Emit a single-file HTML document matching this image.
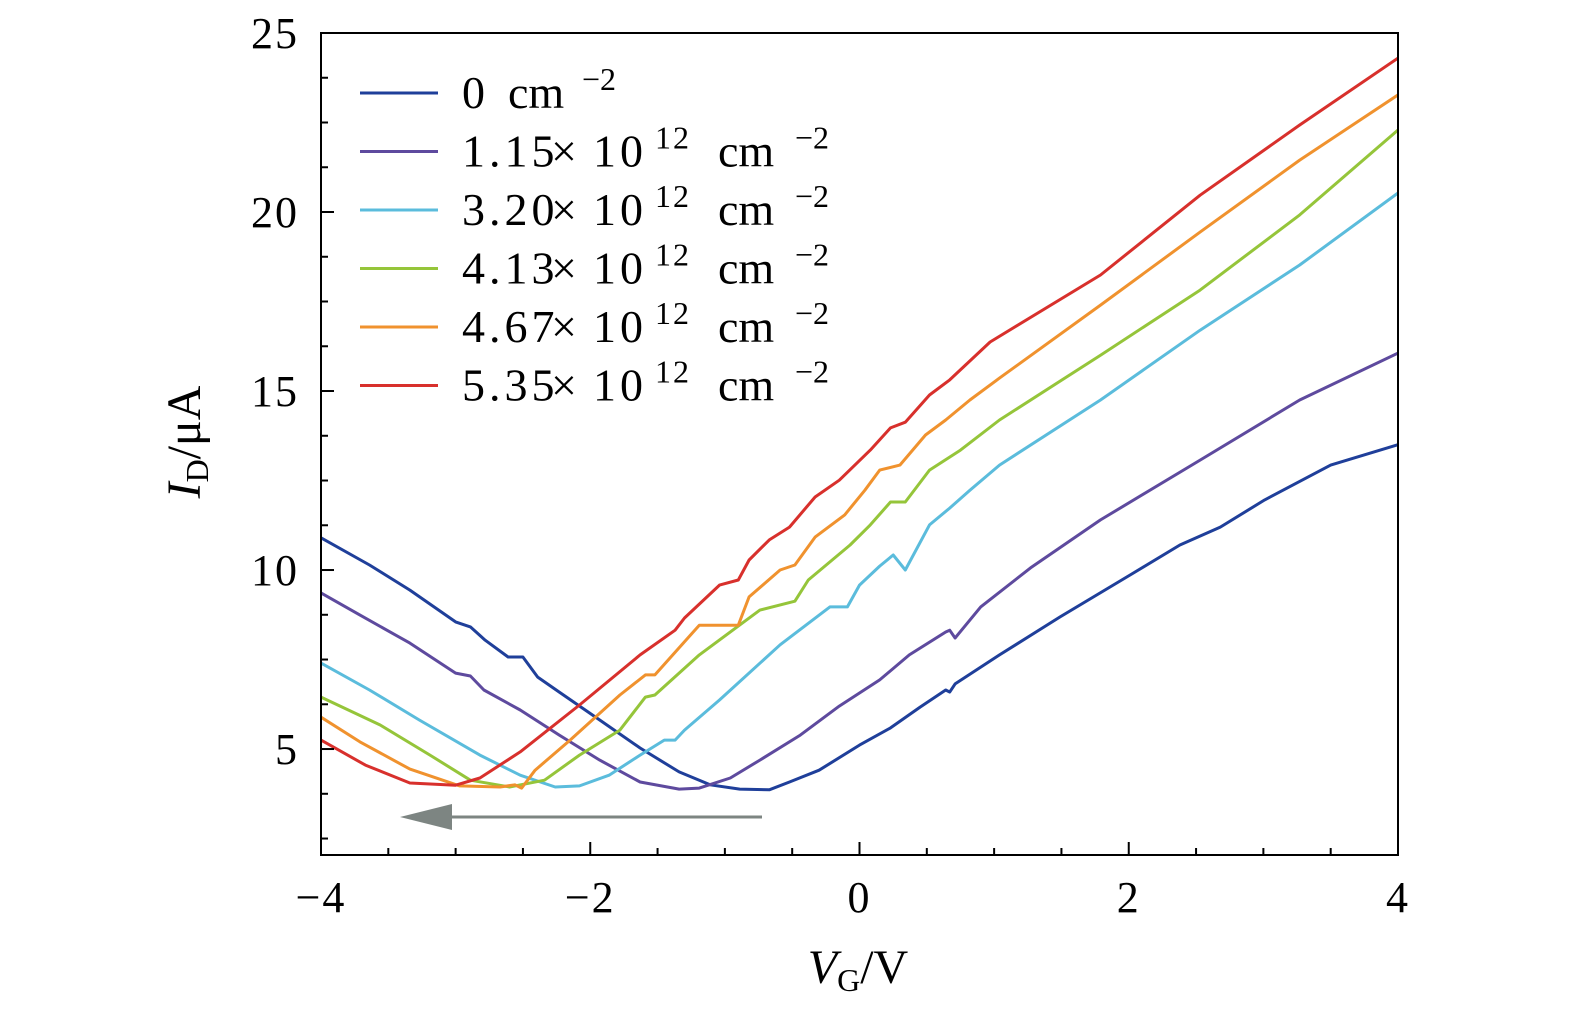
<!DOCTYPE html>
<html><head><meta charset="utf-8"><style>
html,body{margin:0;padding:0;background:#fff;overflow:hidden;width:1575px;height:1014px}
svg{display:block;font-family:"Liberation Serif","DejaVu Serif",serif}
</style></head><body>
<svg id="chart" width="1575" height="1014" viewBox="0 0 1575 1014" xmlns="http://www.w3.org/2000/svg">
<g id="plot"></g>
</svg>
<script>
const xTicks=[-4,-2,0,2,4];
const yTicks=[5,10,15,20,25];
const seriesLabels=["0","1.15","3.20","4.13","4.67","5.35"];
const seriesColors=["#1f3f9a","#5e4a9e","#5bbcdc","#95c53a","#f0922e","#d8302c"];
const vg0=[-4,-3.64,-3.34,-3.0,-2.89,-2.78,-2.61,-2.5,-2.39,-2.23,-1.93,-1.63,-1.34,-1.11,-0.89,-0.67,-0.52,-0.3,0,0.23,0.45,0.64,0.67,0.71,1.04,1.49,2.01,2.38,2.68,3.01,3.5,4];
const id0=[10.9,10.14,9.44,8.55,8.41,8.04,7.57,7.57,7.01,6.59,5.81,5.03,4.36,4.0,3.88,3.86,4.08,4.41,5.11,5.59,6.17,6.65,6.59,6.82,7.63,8.69,9.86,10.7,11.2,11.96,12.93,13.5];
const vg1=[-4,-3.71,-3.34,-3.0,-2.89,-2.79,-2.52,-2.23,-1.93,-1.63,-1.34,-1.19,-0.96,-0.74,-0.44,-0.15,0.15,0.37,0.64,0.67,0.71,0.9,1.27,1.79,2.53,3.27,4];
const id1=[9.36,8.74,7.96,7.12,7.04,6.65,6.09,5.39,4.69,4.08,3.88,3.91,4.19,4.69,5.39,6.2,6.93,7.63,8.27,8.32,8.1,8.97,10.06,11.4,13.07,14.75,16.06];
const vg2=[-4,-3.64,-3.27,-2.82,-2.52,-2.26,-2.08,-1.86,-1.63,-1.45,-1.37,-1.3,-1.04,-0.59,-0.22,-0.09,0,0.15,0.25,0.34,0.52,0.67,0.82,1.04,1.79,2.53,3.27,4];
const id2=[7.4,6.65,5.81,4.83,4.27,3.94,3.97,4.27,4.83,5.25,5.25,5.53,6.37,7.91,8.97,8.97,9.58,10.11,10.42,10.0,11.26,11.73,12.23,12.93,14.75,16.7,18.52,20.53];
const vg3=[-4,-3.56,-3.19,-2.89,-2.6,-2.34,-2.08,-1.78,-1.59,-1.52,-1.19,-0.74,-0.48,-0.38,-0.07,0.08,0.23,0.34,0.52,0.75,1.04,1.79,2.53,3.27,4];
const id3=[6.45,5.67,4.83,4.13,3.94,4.13,4.83,5.53,6.45,6.51,7.63,8.88,9.13,9.72,10.7,11.26,11.9,11.9,12.79,13.35,14.19,16.0,17.82,19.92,22.29];
const vg4=[-4,-3.71,-3.34,-2.97,-2.67,-2.56,-2.51,-2.41,-2.15,-1.78,-1.59,-1.52,-1.19,-0.9,-0.82,-0.59,-0.48,-0.33,-0.11,0.04,0.15,0.3,0.49,0.64,0.82,1.04,1.79,2.53,3.27,4];
const id4=[5.89,5.2,4.44,3.97,3.94,4.0,3.91,4.41,5.25,6.51,7.07,7.07,8.46,8.46,9.25,10.0,10.14,10.92,11.54,12.23,12.79,12.93,13.77,14.19,14.75,15.36,17.4,19.44,21.45,23.27];
const vg5=[-4,-3.67,-3.34,-3.0,-2.82,-2.52,-2.08,-1.63,-1.37,-1.3,-1.04,-0.9,-0.82,-0.67,-0.52,-0.33,-0.15,0.08,0.23,0.34,0.52,0.67,0.97,1.79,2.53,3.27,4];
const id5=[5.25,4.55,4.05,3.99,4.19,4.92,6.23,7.63,8.32,8.66,9.58,9.72,10.28,10.84,11.2,12.04,12.51,13.35,13.97,14.13,14.89,15.31,16.37,18.24,20.47,22.43,24.3];
const allX=[vg0,vg1,vg2,vg3,vg4,vg5], allY=[id0,id1,id2,id3,id4,id5];

const L=321,R=1398,T=33,B=855, yMin=2.04,yMax=25, xMin=-4,xMax=4;
const sx=v=>L+(v-xMin)/(xMax-xMin)*(R-L);
const sy=v=>B-(v-yMin)/(yMax-yMin)*(B-T);
const NS="http://www.w3.org/2000/svg";
const g=document.getElementById('plot');
function mk(tag,at,parent){const e=document.createElementNS(NS,tag);for(const k in at)e.setAttribute(k,at[k]);(parent||g).appendChild(e);return e;}

for(let s=0;s<6;s++){
  const d=allX[s].map((v,i)=>(i?'L':'M')+sx(v).toFixed(1)+','+sy(allY[s][i]).toFixed(1)).join('');
  const p=mk('path',{d:d,fill:'none',stroke:seriesColors[s],'stroke-width':3,'stroke-linejoin':'round'});
  
  
}
const box=mk('rect',{x:L,y:T,width:R-L,height:B-T,fill:'none',stroke:'#000','stroke-width':2});


for(let v=-4;v<=4.001;v+=0.5){
  const major=Math.abs(v-Math.round(v/2)*2)<1e-6;
  const t=mk('line',{x1:sx(v),x2:sx(v),y1:B,y2:B-(major?13:7),stroke:'#000','stroke-width':2});
  
  
}
xTicks.forEach(v=>{
  const t=mk('text',{x:sx(v),y:912,'font-size':44,'text-anchor':'middle','letter-spacing':2});
  t.textContent=(v<0?'\u2212':'')+Math.abs(v);
  
  
});
for(let v=2.5;v<=25.001;v+=1.25){
  const major=Math.abs(v/5-Math.round(v/5))<1e-6;
  const t=mk('line',{x1:L,x2:L+(major?13:7),y1:sy(v),y2:sy(v),stroke:'#000','stroke-width':2});
  
  
}
yTicks.forEach(v=>{
  const t=mk('text',{x:299,y:sy(v)+15,'font-size':44,'text-anchor':'end','letter-spacing':2});
  t.textContent=v;
  
  
});
const ay=sy(3.1);
const al=mk('line',{x1:762,x2:445,y1:ay,y2:ay,stroke:'#7d8582','stroke-width':3});


const ah=mk('polygon',{points:`400,${ay} 452,${ay-13} 452,${ay+13}`,fill:'#7d8582'});


for(let s=0;s<6;s++){
  const y=93+s*58.5;
  const ln=mk('line',{x1:360,x2:438,y1:y,y2:y,stroke:seriesColors[s],'stroke-width':3});
  
  
  const t=mk('text',{x:462,y:y+15,'font-size':46});
  
  
  if(s===0){t.innerHTML='<tspan x="462">0</tspan><tspan x="508">cm</tspan><tspan x="582" dy="-18" font-size="32">\u22122</tspan>';}
  else{t.innerHTML='<tspan x="462" letter-spacing="4">'+seriesLabels[s]+'</tspan><tspan x="551">\u00d7</tspan><tspan x="593" letter-spacing="4">10</tspan><tspan x="655" dy="-18" font-size="32" letter-spacing="2">12</tspan><tspan x="718" dy="18">cm</tspan><tspan x="795" dy="-18" font-size="32">\u22122</tspan>';}
}
const xt=mk('text',{x:858,y:983,'font-size':48,'text-anchor':'middle'});
xt.innerHTML='<tspan font-style="italic">V</tspan><tspan font-size="32" dy="8">G</tspan><tspan dy="-8">/V</tspan>';


const yt=mk('text',{x:0,y:0,'font-size':48,'text-anchor':'middle',transform:'translate(200,442) rotate(-90)'});
yt.innerHTML='<tspan font-style="italic">I</tspan><tspan font-size="32" dy="8">D</tspan><tspan dy="-8">/\u03bcA</tspan>';


</script>
</body></html>
